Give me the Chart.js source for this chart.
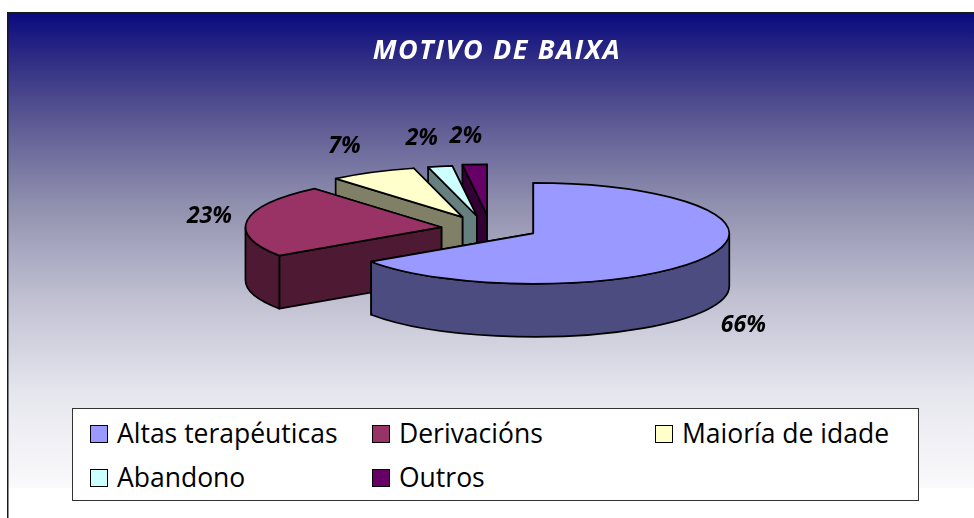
<!DOCTYPE html>
<html><head><meta charset="utf-8">
<script src="https://cdn.jsdelivr.net/npm/chart.js@4"></script>
<style>
html,body{margin:0;padding:0;background:#fff;overflow:hidden}
#wrap{position:relative;width:974px;height:518px}
canvas{display:block}
#legend{position:absolute;left:72px;top:408px;width:845px;height:91px;background:#fff;border:1px solid #333;font:26.5px "Open Sans",sans-serif;color:#000}
.it{position:absolute;white-space:nowrap;line-height:30px}
.sw{position:absolute;width:16px;height:16px;border:1px solid #000}
</style></head><body>
<div id="wrap"><canvas id="c" width="974" height="518"></canvas><div id="legend"></div></div>
<script>
const categories = ['Altas terapéuticas','Derivacións','Maioría de idade','Abandono','Outros'];
const percentValues = [65.5,23.3,7.2,2,2];
const topColors = ['#9999FF','#993366','#FFFFCC','#CCFFFF','#660066'];
const wallColors = ['#4C4C80','#4D1933','#808066','#668080','#330033'];
const explodeBy = [49,49,49,49,49];
const sliceNudge = [[0,0],[0,1.5],[-5,1],[-4,1],[0,0]];
const labelNudge = [[210,92],[-232,-11],[-118,-71],[-55,-78],[-21,-78]];
const legendSlots = [[17,16,44,15],[299,16,326,15],[582,16,609,15],[17,60,44,59],[299,60,326,59]];

const PIE_X = 490, PIE_Y = 227.4, TILT = 0.2577, DEPTH = 53;

const scene = {
  id:'scene',
  beforeDraw(chart){
    const ctx = chart.ctx;
    ctx.save();
    const g = ctx.createLinearGradient(0,13,0,488);
    const stops = [[0,'#0a0a80'],[.1,'#302e84'],[.22,'#5a5692'],[.4,'#8f8fae'],[.6,'#c0c0d2'],[.8,'#e6e6ee'],[1,'#fafafc']];
    stops.forEach(s=>g.addColorStop(s[0],s[1]));
    ctx.fillStyle = g; ctx.fillRect(8,13,966,475);
    ctx.fillStyle = '#fff'; ctx.fillRect(8,488,966,30);
    ctx.fillStyle = '#1a1a1a'; ctx.fillRect(7,12,967,1.5); ctx.fillRect(7,12,1.5,506);
    ctx.restore();
    ctx.letterSpacing = '1.6px';
  },
  beforeDatasetsDraw(chart){
    const ctx = chart.ctx;
    ctx.letterSpacing = '0px';
    const arcs = chart.getDatasetMeta(0).data;
    const order = arcs.map((a,i)=>i).reverse();
    ctx.lineWidth = 1.7; ctx.strokeStyle = '#000'; ctx.lineJoin='round';
    for (const i of order){
      const a = arcs[i], p = a.getProps(['x','y','startAngle','endAngle','outerRadius']);
      const mid = (p.startAngle+p.endAngle)/2;
      const ax = PIE_X + Math.cos(mid)*explodeBy[i] + sliceNudge[i][0];
      const ay = PIE_Y + Math.sin(mid)*explodeBy[i]*TILT + sliceNudge[i][1];
      const rx = p.outerRadius, ry = rx*TILT;
      a._apex = [ax,ay];
      [p.endAngle,p.startAngle].forEach(t=>{
        const ex = ax+Math.cos(t)*rx, ey = ay+Math.sin(t)*ry;
        ctx.beginPath(); ctx.moveTo(ax,ay); ctx.lineTo(ex,ey); ctx.lineTo(ex,ey+DEPTH); ctx.lineTo(ax,ay+DEPTH); ctx.closePath();
        ctx.fillStyle = wallColors[i]; ctx.fill(); ctx.stroke();
      });
      const w0 = Math.max(p.startAngle,0), w1 = Math.min(p.endAngle,Math.PI);
      if (w1>w0){
        ctx.beginPath(); ctx.ellipse(ax,ay,rx,ry,0,w0,w1);
        ctx.ellipse(ax,ay+DEPTH,rx,ry,0,w1,w0,true); ctx.closePath();
        ctx.fillStyle = wallColors[i]; ctx.fill(); ctx.stroke();
      }
      ctx.save();
      ctx.translate(ax,ay); ctx.scale(1,TILT); ctx.translate(-p.x,-p.y);
      a.draw(ctx);
      ctx.restore();
      ctx.beginPath(); ctx.moveTo(ax,ay); ctx.ellipse(ax,ay,rx,ry,0,p.startAngle,p.endAngle); ctx.closePath();
      ctx.stroke();
    }
    ctx.font = 'italic bold 23px "Open Sans"';
    ctx.fillStyle = '#000'; ctx.textAlign='center'; ctx.textBaseline='middle';
    arcs.forEach((a,i)=>{
      ctx.fillText(Math.round(percentValues[i])+'%', a._apex[0]+labelNudge[i][0], a._apex[1]+labelNudge[i][1]);
    });
    return false;
  }
};

new Chart(document.getElementById('c'),{
  type:'pie',
  data:{labels:categories,datasets:[{data:percentValues,backgroundColor:topColors,borderWidth:0,radius:196}]},
  options:{
    responsive:false,animation:false,
    layout:{padding:{left:20,right:0,top:0,bottom:0}},
    plugins:{
      legend:{display:false},tooltip:{enabled:false},
      title:{display:true,text:'MOTIVO DE BAIXA',color:'#fff',
        font:{family:'"Open Sans"',size:27,weight:'bold',style:'italic'},padding:{top:35,bottom:10}}
    }
  },
  plugins:[scene]
});

const lg = document.getElementById('legend');
categories.forEach((c,i)=>{
  const s = legendSlots[i];
  const b = document.createElement('div'); b.className='sw'; b.style.left=s[0]+'px'; b.style.top=s[1]+'px'; b.style.background=topColors[i];
  const t = document.createElement('div'); t.className='it'; t.style.left=s[2]+'px'; t.style.top=(s[3]-6)+'px'; t.textContent=c;
  lg.append(b,t);
});
</script></body></html>
